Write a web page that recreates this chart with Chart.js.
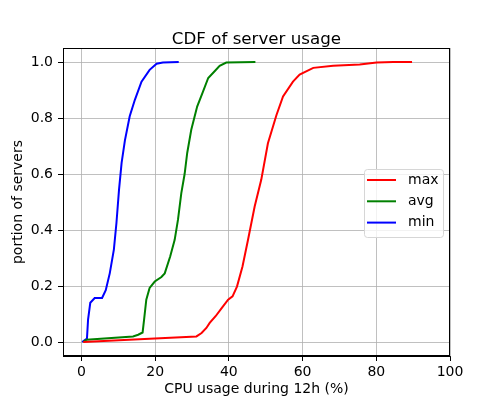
<!DOCTYPE html>
<html>
<head>
<meta charset="utf-8">
<script src="https://cdn.jsdelivr.net/npm/chart.js@4"></script>
<style>
  html, body { margin: 0; padding: 0; background: #fff; }
  #wrap { width: 500px; height: 400px; }
</style>
</head>
<body>
<div id="wrap"><canvas id="myChart" width="500" height="400"></canvas></div>
<script>
const xTicks = [0, 20, 40, 60, 80, 100];
const yTicks = [0, 0.2, 0.4, 0.6, 0.8, 1.0];

// CPU usage (%) and cumulative fraction
const maxX = [0.5, 18.5, 31.2, 32.6, 33.9, 34.8, 36.4, 38.0, 39.8, 41.0, 42.2, 43.7, 45.2, 47.0, 48.8, 50.6, 52.9, 54.7, 57.4, 59.2, 62.9, 68.3, 75.5, 80.1, 84.6, 89.7];
const maxY = [0, 0.012, 0.02, 0.032, 0.05, 0.068, 0.092, 0.12, 0.151, 0.163, 0.198, 0.27, 0.365, 0.484, 0.58, 0.71, 0.81, 0.877, 0.93, 0.955, 0.979, 0.987, 0.991, 0.998, 1.0, 1.0];

const avgX = [0.5, 1.4, 14.0, 15.4, 16.6, 17.0, 17.6, 18.5, 19.9, 21.7, 22.6, 24.1, 25.3, 26.2, 27.1, 28.0, 28.7, 29.8, 31.4, 32.8, 34.4, 36.2, 37.5, 39.3, 47.2];
const avgY = [0, 0.008, 0.02, 0.026, 0.034, 0.08, 0.151, 0.193, 0.216, 0.232, 0.245, 0.306, 0.365, 0.437, 0.532, 0.6, 0.675, 0.758, 0.841, 0.888, 0.943, 0.968, 0.986, 0.998, 1.0];

const minX = [0.2, 1.5, 1.8, 2.4, 3.6, 5.6, 6.6, 7.7, 8.8, 9.5, 10.2, 10.9, 11.8, 13.1, 14.5, 16.3, 18.5, 20.4, 22.1, 26.4];
const minY = [0, 0.012, 0.08, 0.14, 0.157, 0.157, 0.185, 0.246, 0.33, 0.425, 0.544, 0.64, 0.72, 0.806, 0.865, 0.93, 0.972, 0.994, 0.998, 1.0];

const font = "DejaVu Sans";
const toPoints = (xs, ys) => xs.map((x, i) => ({ x: x, y: ys[i] }));

const framePlugin = {
  id: "frame",
  afterDraw(chart) {
    const c = chart.ctx;
    const a = chart.chartArea;
    c.save();
    c.strokeStyle = "#000";
    c.lineWidth = 1;
    c.strokeRect(a.left + 0.5, a.top + 0.5, a.right - a.left - 1, a.bottom - a.top - 1);

    // title
    c.fillStyle = "#000";
    c.font = "16.7px " + font;
    c.textAlign = "center";
    c.textBaseline = "alphabetic";
    c.fillText("CDF of server usage", (a.left + a.right) / 2, 44);

    // legend, center right
    const w = 79, h = 68;
    const bx = a.right - 7 - w;
    const by = (a.top + a.bottom) / 2 - h / 2 + 1;
    c.beginPath();
    c.roundRect(bx + 0.5, by + 0.5, w, h, 3);
    c.fillStyle = "rgba(255,255,255,0.8)";
    c.fill();
    c.strokeStyle = "#d6d6d6";
    c.stroke();
    c.font = "14px " + font;
    c.textAlign = "left";
    c.textBaseline = "middle";
    chart.data.datasets.forEach((ds, i) => {
      const y = by + 11 + i * 21.3;
      c.beginPath();
      c.moveTo(bx + 3, y);
      c.lineTo(bx + 32, y);
      c.strokeStyle = ds.borderColor;
      c.lineWidth = 2;
      c.stroke();
      c.fillStyle = "#000";
      c.fillText(ds.label, bx + 44, y);
    });
    c.restore();
  }
};

const ctx = document.getElementById("myChart").getContext("2d");
new Chart(ctx, {
  type: "scatter",
  data: {
    datasets: [
      { label: "max", data: toPoints(maxX, maxY), borderColor: "#ff0000" },
      { label: "avg", data: toPoints(avgX, avgY), borderColor: "#008000" },
      { label: "min", data: toPoints(minX, minY), borderColor: "#0000ff" }
    ]
  },
  options: {
    responsive: false,
    animation: false,
    layout: { padding: { top: 48, right: 50, left: 0, bottom: 0 } },
    elements: {
      line: { borderWidth: 2, tension: 0, fill: false },
      point: { radius: 0, hoverRadius: 0 }
    },
    datasets: { scatter: { showLine: true } },
    plugins: {
      legend: { display: false },
      tooltip: { enabled: false }
    },
    scales: {
      x: {
        type: "linear",
        min: -5,
        max: 100,
        afterBuildTicks: (s) => { s.ticks = xTicks.map((v) => ({ value: v })); },
        afterFit: (s) => { s.height = 44; },
        ticks: { color: "#000", font: { family: font, size: 14 }, padding: 3, maxRotation: 0 },
        grid: { color: "#b0b0b0", lineWidth: 0.8, tickColor: "#000", tickLength: 5, tickWidth: 1 },
        border: { display: true, color: "#000", width: 1 },
        title: { display: true, text: "CPU usage during 12h (%)", color: "#000", font: { family: font, size: 14 }, padding: { top: 2, bottom: 2 } }
      },
      y: {
        type: "linear",
        min: -0.05,
        max: 1.05,
        afterBuildTicks: (s) => { s.ticks = yTicks.map((v) => ({ value: v })); },
        afterFit: (s) => { s.width = 63; },
        ticks: { color: "#000", font: { family: font, size: 14 }, padding: 5, callback: (v) => v.toFixed(1) },
        grid: { color: "#b0b0b0", lineWidth: 0.8, tickColor: "#000", tickLength: 5, tickWidth: 1 },
        border: { display: true, color: "#000", width: 1 },
        title: { display: true, text: "portion of servers", color: "#000", font: { family: font, size: 14 }, padding: { top: 10, bottom: 0 } }
      }
    }
  },
  plugins: [framePlugin]
});
</script>
</body>
</html>
